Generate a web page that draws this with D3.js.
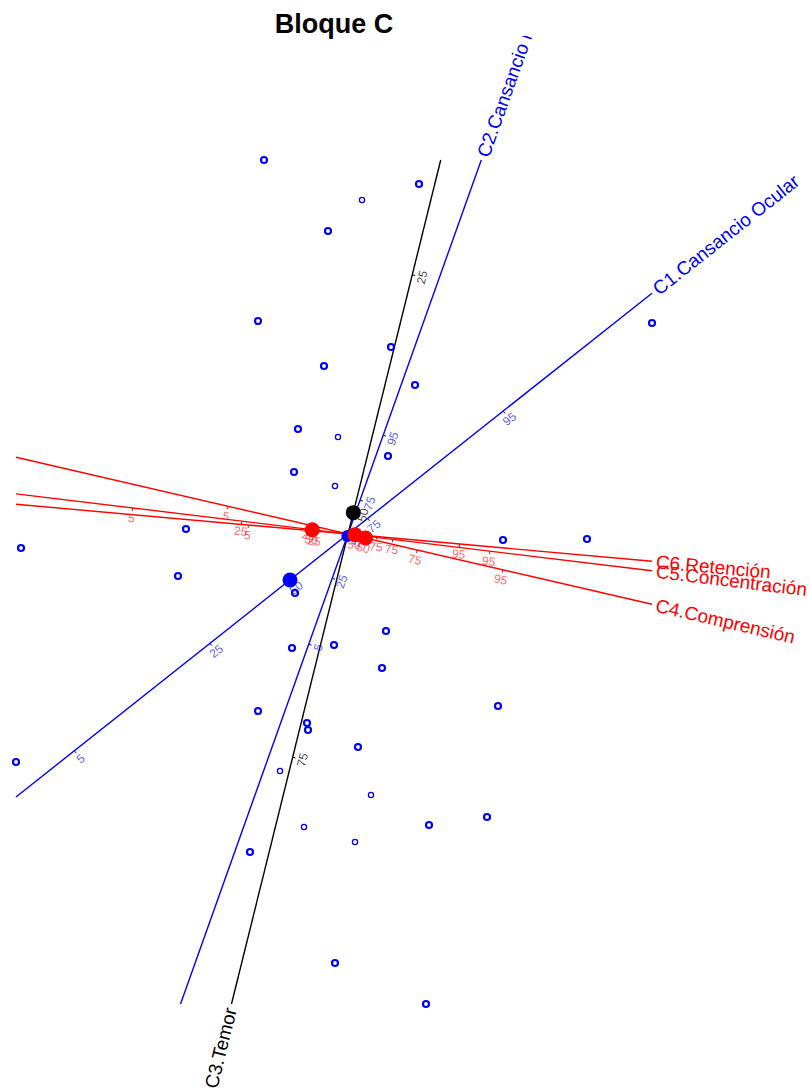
<!DOCTYPE html>
<html>
<head>
<meta charset="utf-8">
<script src="https://cdn.jsdelivr.net/npm/d3@7"></script>
<style>
  html, body { margin: 0; padding: 0; background: #fff; }
  svg { display: block; font-family: "Liberation Sans", Arial, sans-serif; }
</style>
</head>
<body>
<svg id="chart" width="809" height="1089"></svg>
<script>
// Biplot coordinates of the individuals (row markers)
const pointX = [-0.84, 0.71, 0.14, -0.20, 3.04, -0.90, 0.43, -0.24, 0.67, -0.50,
                -0.10, 0.40, -0.54, -0.13, -1.62, 1.55, 2.39, -3.27, -1.70, -0.53,
                 0.38, -0.56, -0.14, 0.34, 1.50, -0.90, -0.41, -0.40, 0.10, -3.32,
                -0.68, 0.23, 0.81, 1.39, -0.44, -0.98, 0.07, -0.13, 0.78];
const pointY = [ 3.74, 3.50, 3.34, 3.03, 2.11, 2.13, 1.87, 1.68, 1.49, 1.05,
                 0.97, 0.78, 0.62, 0.48, 0.05, -0.06, -0.05, -0.14, -0.42, -0.59,
                -0.97, -1.14, -1.11, -1.34, -1.72, -1.77, -1.89, -1.96, -2.13, -2.28,
                -2.37, -2.61, -2.91, -2.83, -2.93, -3.18, -3.08, -4.29, -4.70];
// 2 = overplotted marker (heavier outline), 1 = single
const pointWeight = [2, 2, 1, 2, 2, 2, 2, 2, 2, 2,
                     1, 2, 2, 1, 2, 2, 2, 2, 2, 2,
                     2, 2, 2, 2, 2, 2, 2, 2, 2, 2,
                     1, 1, 2, 2, 1, 2, 1, 2, 2];

// Variables (column markers): name, colour, direction of increasing values
const axisNames  = ["C1.Cansancio Ocular", "C2.Cansancio Mental", "C3.Temor",
                    "C4.Comprensión", "C5.Concentración", "C6.Retención"];
const axisColors = ["blue", "blue", "black", "red", "red", "red"];
const axisDirX   = [0.784, 0.3356, -0.2407, 0.974, 0.992, 0.996];
const axisDirY   = [0.621, 0.9418, -0.9709, -0.225, -0.120, -0.0893];

// Percentile calibration of each axis: position along the axis of each level
const tickLevels = [5, 25, 50, 75, 95];
const tickPos = [
  [-3.49, -1.76, -0.74, 0.25, 1.98],
  [-1.17, -0.47, -0.02, 0.36, 1.05],
  [null,  -2.67, -0.22, 2.30, null],
  [-1.23, -0.38,  0.18, 0.71, 1.59],
  [-2.17, -1.07, -0.36, 0.45, 1.43],
  [-1.00, -0.33,  0.07, 0.29, 1.12]
];
const medianLevel = 50;

const title = "Bloque C";

const svg = d3.select("#chart");
const W = 809, H = 1089;

const xmin = d3.min(pointX), xmax = d3.max(pointX);
const ymin = d3.min(pointY), ymax = d3.max(pointY);
const plot = { left: 16, right: 652, top: 160, bottom: 1004 };

const x = d3.scaleLinear().domain([xmin, xmax]).range([plot.left, plot.right]);
const y = d3.scaleLinear().domain([ymin, ymax]).range([plot.bottom, plot.top]);

// the figure region starts just under the title
svg.append("defs").append("clipPath").attr("id", "figclip")
  .append("rect").attr("x", 0).attr("y", 36).attr("width", W).attr("height", H - 36);

// Title
svg.append("text")
  .attr("x", (plot.left + plot.right) / 2)
  .attr("y", 33)
  .attr("text-anchor", "middle")
  .attr("font-size", 27)
  .attr("font-weight", "bold")
  .text(title);

const gAxes = svg.append("g").attr("clip-path", "url(#figclip)");
const gTicks = svg.append("g");
const gPts = svg.append("g");
const gMed = svg.append("g");

function tRange(ux, uy) {
  let lo = -Infinity, hi = Infinity;
  if (ux !== 0) {
    const a = xmin / ux, b = xmax / ux;
    lo = Math.max(lo, Math.min(a, b)); hi = Math.min(hi, Math.max(a, b));
  }
  if (uy !== 0) {
    const a = ymin / uy, b = ymax / uy;
    lo = Math.max(lo, Math.min(a, b)); hi = Math.min(hi, Math.max(a, b));
  }
  return [lo, hi];
}

const lightColor = { blue: "rgba(30,30,255,0.75)", red: "rgba(255,30,30,0.7)", black: "rgba(30,30,30,0.85)" };

axisNames.forEach((name, i) => {
  const ux = axisDirX[i], uy = axisDirY[i];
  const col = axisColors[i];
  const [t0, t1] = tRange(ux, uy);
  const X0 = x(t0 * ux), Y0 = y(t0 * uy), X1 = x(t1 * ux), Y1 = y(t1 * uy);

  gAxes.append("line")
    .attr("x1", X0).attr("y1", Y0).attr("x2", X1).attr("y2", Y1)
    .attr("stroke", col).attr("stroke-width", 1.4);

  // screen unit vector toward the labelled end
  const len = Math.hypot(X1 - X0, Y1 - Y0);
  const sx = (X1 - X0) / len, sy = (Y1 - Y0) / len;
  // reading direction (left to right) and the side below the text
  const rx = sx >= 0 ? sx : -sx, ry = sx >= 0 ? sy : -sy;
  const ang = Math.atan2(ry, rx) * 180 / Math.PI;
  const px = -ry, py = rx;

  // variable name at the end of the axis
  const gap = 4;
  gAxes.append("text")
    .attr("transform", `translate(${X1 + sx * gap},${Y1 + sy * gap}) rotate(${ang})`)
    .attr("text-anchor", sx >= 0 ? "start" : "end")
    .attr("dy", "0.35em")
    .attr("font-size", 19)
    .attr("fill", col)
    .text(name);

  // calibration marks
  tickLevels.forEach((lev, k) => {
    const t = tickPos[i][k];
    if (t === null || t < t0 || t > t1) return;
    const cx = x(t * ux), cy = y(t * uy);
    gTicks.append("line")
      .attr("x1", cx).attr("y1", cy)
      .attr("x2", cx + px * 3).attr("y2", cy + py * 3)
      .attr("stroke", col).attr("stroke-width", 1);
    gTicks.append("text")
      .attr("transform", `translate(${cx + px * 10},${cy + py * 10}) rotate(${ang})`)
      .attr("text-anchor", "middle")
      .attr("dy", "0.35em")
      .attr("font-size", 12)
      .attr("fill", lightColor[col])
      .text(lev);
  });
});

// individuals
gPts.selectAll("circle")
  .data(pointX.map((v, i) => ({ x: v, y: pointY[i], w: pointWeight[i] })))
  .join("circle")
  .attr("cx", d => x(d.x))
  .attr("cy", d => y(d.y))
  .attr("r", d => d.w === 2 ? 3 : 2.6)
  .attr("fill", "none")
  .attr("stroke", "blue")
  .attr("stroke-width", d => d.w === 2 ? 2.2 : 1.3);

// median marker on each axis
axisNames.forEach((name, i) => {
  const k = tickLevels.indexOf(medianLevel);
  const t = tickPos[i][k];
  gMed.append("circle")
    .attr("cx", x(t * axisDirX[i]))
    .attr("cy", y(t * axisDirY[i]))
    .attr("r", i === 1 ? 6 : 7.5)
    .attr("fill", axisColors[i]);
});
</script>
</body>
</html>
